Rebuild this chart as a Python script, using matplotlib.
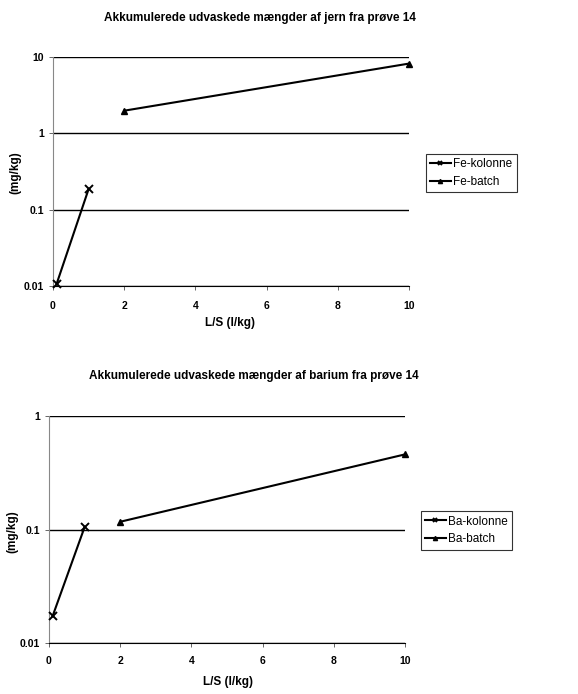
import matplotlib
matplotlib.use("Agg")
import matplotlib.pyplot as plt

plt.rcParams['font.family'] = ['Liberation Sans', 'DejaVu Sans']

fe_kol_x = [0.1, 1]
fe_kol_y = [0.0106, 0.186]
fe_bat_x = [2, 10]
fe_bat_y = [1.98, 8.2]

ba_kol_x = [0.1, 1]
ba_kol_y = [0.0172, 0.105]
ba_bat_x = [2, 10]
ba_bat_y = [0.117, 0.459]

x_ticks = [0, 2, 4, 6, 8, 10]

W, H = 578, 694
fig = plt.figure(figsize=(W/100, H/100), dpi=100)

def make(ax_box, kx, ky, bx, by, ylim, yticks, yticklabels, names, title, title_xy, ylab_xy, xlab_xy, leg_box, xpad):
    l, t, r, b = ax_box
    ax = fig.add_axes([l/W, 1-b/H, (r-l)/W, (b-t)/H])
    ax.set_yscale('log')
    h1, = ax.plot(kx, ky, color='black', lw=1.5, marker='x', ms=5.5, mew=1.4, label=names[0], clip_on=False, zorder=3)
    h2, = ax.plot(bx, by, color='black', lw=1.5, marker='^', ms=5, label=names[1], clip_on=False, zorder=3)
    ax.set_xlim(0, 10)
    ax.set_ylim(*ylim)
    ax.set_xticks(x_ticks)
    ax.set_xticklabels([str(v) for v in x_ticks], fontsize=7.5, fontweight='bold')
    ax.set_yticks(yticks)
    ax.set_yticklabels(yticklabels, fontsize=7.5, fontweight='bold')
    ax.yaxis.set_minor_locator(matplotlib.ticker.NullLocator())
    for y in yticks:
        ax.axhline(y, color='black', lw=1.0, zorder=0.5)
    ax.spines['top'].set_visible(False)
    ax.spines['right'].set_visible(False)
    ax.spines['left'].set_color('#888888')
    ax.spines['left'].set_linewidth(0.8)
    ax.spines['bottom'].set_color('black')
    ax.tick_params(axis='both', length=3, width=0.7, color='#666666')
    ax.tick_params(axis='y', pad=3.5)
    ax.tick_params(axis='x', pad=xpad)
    fig.text(title_xy[0]/W, 1-title_xy[1]/H, title, ha='center', va='center', fontsize=8.5, fontweight='bold')
    fig.text(ylab_xy[0]/W, 1-ylab_xy[1]/H, '(mg/kg)', rotation=90, ha='center', va='center', fontsize=8.5, fontweight='bold')
    fig.text(xlab_xy[0]/W, 1-xlab_xy[1]/H, 'L/S (l/kg)', ha='center', va='center', fontsize=8.5, fontweight='bold')
    lx0, ly0, lx1, ly1 = leg_box
    leg = fig.legend(handles=[h1, h2], loc='center', bbox_to_anchor=((lx0+lx1)/2/W, 1-(ly0+ly1)/2/H),
                     fontsize=8.5, frameon=True, fancybox=False, edgecolor='black', handlelength=1.8,
                     handletextpad=0.2, borderpad=0.35, labelspacing=0.5, markerscale=0.6, borderaxespad=0)
    leg.get_frame().set_linewidth(0.8)
    return ax

make((53, 57, 409, 286), fe_kol_x, fe_kol_y, fe_bat_x, fe_bat_y, (0.01, 10),
     [0.01, 0.1, 1, 10], ['0.01', '0.1', '1', '10'], ['Fe-kolonne', 'Fe-batch'],
     'Akkumulerede udvaskede mængder af jern fra prøve 14', (260, 18), (15, 173), (230, 323),
     (426, 153, 516, 193), 8)

make((49, 416, 405, 643), ba_kol_x, ba_kol_y, ba_bat_x, ba_bat_y, (0.01, 1),
     [0.01, 0.1, 1], ['0.01', '0.1', '1'], ['Ba-kolonne', 'Ba-batch'],
     'Akkumulerede udvaskede mængder af barium fra prøve 14', (254, 376), (12, 532), (228, 682),
     (421, 509, 512, 552), 6)

fig.savefig('out.png', dpi=100)
